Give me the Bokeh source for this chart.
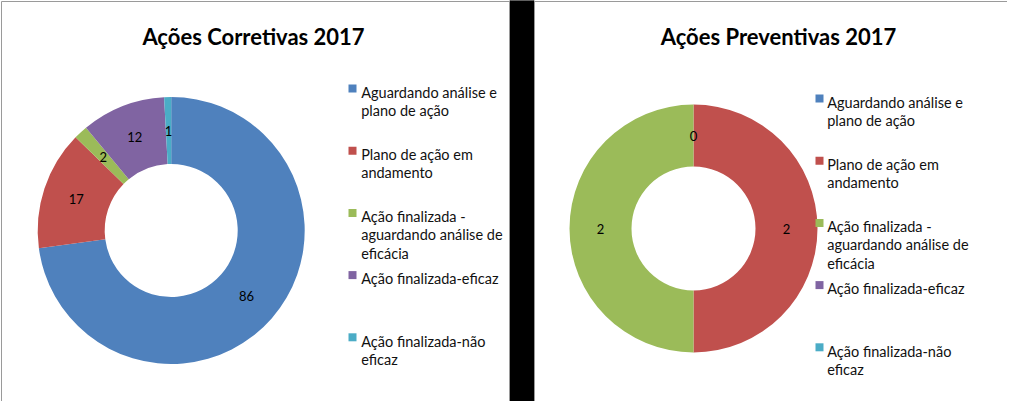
import numpy as np
from bokeh.plotting import figure
from bokeh.models import Range1d
from bokeh.core.properties import value
from bokeh.embed import file_html
from bokeh.resources import INLINE

# ---------------- data ----------------
categories = [
    "Aguardando análise e plano de ação",
    "Plano de ação em andamento",
    "Ação finalizada - aguardando análise de eficácia",
    "Ação finalizada-eficaz",
    "Ação finalizada-não eficaz",
]
legend_lines = [
    ["Aguardando análise e", "plano de ação"],
    ["Plano de ação em", "andamento"],
    ["Ação finalizada -", "aguardando análise de", "eficácia"],
    ["Ação finalizada-eficaz"],
    ["Ação finalizada-não", "eficaz"],
]
corretivas = [86, 17, 2, 12, 1]
preventivas = [0, 2, 2, 0, 0]
titles = ["Ações Corretivas 2017", "Ações Preventivas 2017"]
colors = ["#4F81BD", "#C0504D", "#9BBB59", "#8064A2", "#4BACC6"]

# ---------------- layout (reference pixel space) ----------------
H = 417
def Y(y):
    return H - y

panels = [
    dict(values=corretivas, title=titles[0], cx=170.7, cy=230, ro=133.5, ri=66.5,
         title_x=253, title_y=36, sq_x=352, tx=360.7, ly0=88),
    dict(values=preventivas, title=titles[1], cx=693, cy=228, ro=124, ri=62,
         title_x=778, title_y=36, sq_x=819, tx=826.7, ly0=98),
]
FONT = "Lato"
ENTRY_STEP = 62.2
LINE_STEP = 18.3

W_FIG, H_FIG = 1007, 401
p = figure(width=W_FIG, height=H_FIG, x_range=Range1d(0, W_FIG), y_range=Range1d(H - H_FIG, H),
           output_backend="svg", toolbar_location=None, min_border=0)
p.axis.visible = False
p.grid.visible = False
p.outline_line_color = None
p.background_fill_color = "white"
p.border_fill_color = "white"

# black gap between the two chart panels and panel borders
p.quad(left=[509.5], right=[533.5], bottom=[0], top=[H], color="black")
p.segment(x0=[509], y0=[Y(0)], x1=[509], y1=[Y(414)], line_color="#9a9a9a", line_width=1)
p.segment(x0=[534], y0=[Y(0)], x1=[534], y1=[Y(414)], line_color="#9a9a9a", line_width=1)
p.segment(x0=[1], y0=[Y(1)], x1=[509], y1=[Y(1)], line_color="#9a9a9a", line_width=1)
p.segment(x0=[534], y0=[Y(1)], x1=[1020], y1=[Y(1)], line_color="#9a9a9a", line_width=1)
p.segment(x0=[1], y0=[Y(1)], x1=[1], y1=[Y(414)], line_color="#9a9a9a", line_width=1)

for pan in panels:
    vals = np.array(pan["values"], dtype=float)
    total = vals.sum()
    cum = np.concatenate([[0], np.cumsum(vals)])
    starts_frac = cum[:-1] / total
    ends_frac = cum[1:] / total
    cx, cy = pan["cx"], Y(pan["cy"])
    # wedges (clockwise from 12 o'clock)
    for i, v in enumerate(vals):
        if v <= 0:
            continue
        a_start = np.pi / 2 - 2 * np.pi * ends_frac[i]
        a_end = np.pi / 2 - 2 * np.pi * starts_frac[i]
        p.annular_wedge(x=[cx], y=[cy], inner_radius=pan["ri"], outer_radius=pan["ro"],
                        start_angle=[a_start], end_angle=[a_end],
                        fill_color=colors[i], line_color=None)
    # data labels
    rm = (pan["ri"] + pan["ro"]) / 2
    seen = set()
    for i, v in enumerate(vals):
        mid = np.pi / 2 - 2 * np.pi * (starts_frac[i] + ends_frac[i]) / 2
        lx, ly = cx + rm * np.cos(mid), cy + rm * np.sin(mid)
        key = (round(lx), round(ly))
        if key in seen:
            continue
        seen.add(key)
        p.text(x=[lx], y=[ly], text=[str(int(v))], text_font=value(FONT),
               text_font_size="13px", text_align="center", text_baseline="middle",
               text_color="black")
    # title
    p.text(x=[pan["title_x"]], y=[Y(pan["title_y"])], text=[pan["title"]],
           text_font=value(FONT), text_font_style="bold", text_font_size="22px",
           text_align="center", text_baseline="alphabetic", text_color="black")
    # legend
    for i, lines in enumerate(legend_lines):
        yc = pan["ly0"] + i * ENTRY_STEP
        p.rect(x=[pan["sq_x"]], y=[Y(yc)], width=8, height=8, fill_color=colors[i],
               line_color=None)
        for j, ln in enumerate(lines):
            p.text(x=[pan["tx"]], y=[Y(yc + 3.7 + j * LINE_STEP)], text=[ln],
                   text_font=value(FONT), text_font_size="14.5px", text_align="left",
                   text_baseline="alphabetic", text_color="#111111")

open("out.html", "w").write(file_html(p, INLINE))
